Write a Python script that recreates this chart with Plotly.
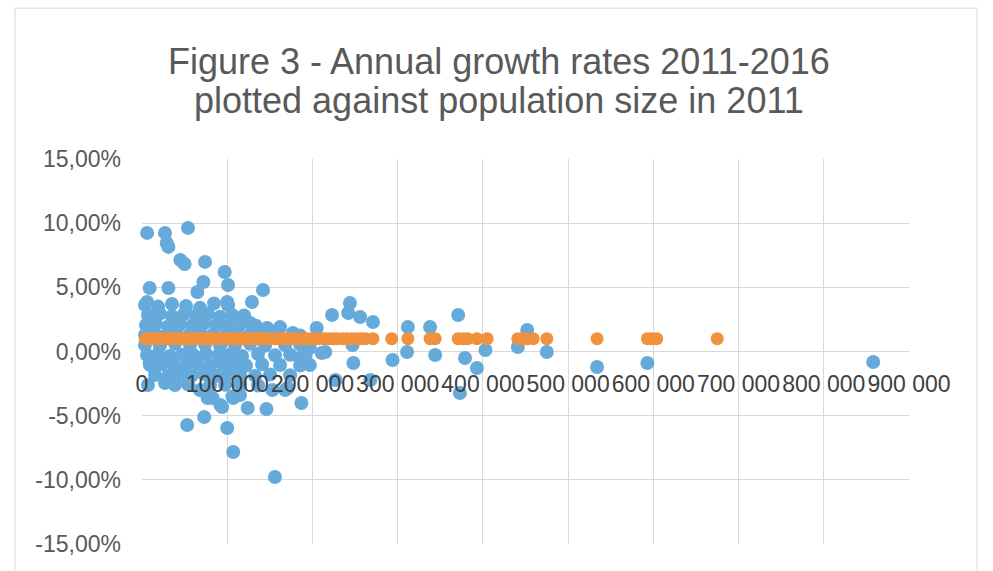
import plotly.graph_objects as go

# Population size in 2011 (persons) and annual growth rate 2011-2016 (%) per area
blue_population = [
    6000, 27000, 29000, 31000, 54000, 45000, 50000, 74000, 97000, 72000,
    101000, 9000, 31000, 6000, 65000, 100000, 142000, 129000, 127000, 147000,
    177000, 205000, 223000, 244000, 242000, 256000, 271000, 312000, 338000, 371000,
    452000, 197000, 215000, 247000, 248000, 294000, 311000, 344000, 379000, 393000,
    403000, 441000, 475000, 373000, 534000, 593000, 858000,
    53000, 73000, 100000, 107000, 156000, 124000, 146000, 187000, 94000, 83000,
    107000, 115000, 153000, 171000, 68000, 7000, 27000, 77000, 92000, 9000,
    227000, 268000, 211000, 197000, 185000, 168000, 106000,
    # dense cluster of smaller areas
    3500, 18800, 35200, 51700, 68100, 84500, 101000,
    7000, 21100, 35200, 49300, 63400, 77500, 91600, 105700, 119700,
    4700, 16400, 30500, 44600, 58700, 72800, 86900, 101000, 115100, 133800, 162000,
    3500, 15300, 27000, 41100, 55200, 69300, 83400, 97400, 111500, 125600, 140900, 156100, 185500,
    3500, 21100, 38700, 56400, 74000, 91600, 109200, 126800, 144400, 167900, 185500,
    5900, 18800, 32900, 47000, 61000, 75100, 89200, 103300, 117400, 136200, 156100, 173800, 191400,
    9400, 23500, 37600, 51700, 65700, 79800, 93900, 108000, 122100, 140900, 162000, 185500,
    15300, 30500, 44600, 58700, 72800, 86900, 101000, 115100, 132700, 150300, 173800,
    38700, 54000, 79800, 97400, 115100, 136200,
]
blue_growth = [
    9.24, 9.24, 8.46, 8.15, 9.63, 7.13, 6.82, 6.98, 6.20, 5.42,
    5.18, 4.95, 4.95, 3.86, 4.64, 3.86, 4.79, 3.86, 2.22, 1.83,
    1.44, 1.83, 2.84, 3.78, 3.00, 2.69, 2.30, 1.91, 1.91, 2.84,
    1.68, 0.27, -0.04, 0.51, -0.90, -0.66, -0.04, -0.27, -0.51, -1.29,
    0.12, 0.35, -0.04, -3.23, -1.21, -0.90, -0.82,
    -5.73, -5.11, -5.96, -7.83, -9.78, -4.40, -4.48, -4.01, -4.33, -3.62,
    -3.62, -3.39, -3.00, -2.84, -3.00, -2.61, -2.46, -3.62, -4.17, -0.90,
    -2.22, -2.22, -0.12, -1.05, -0.50, -3.00, -3.50,
    3.62, 3.50, 3.70, 3.55, 3.40, 3.75, 3.60,
    2.84, 2.95, 2.75, 2.90, 2.80, 2.95, 2.70, 2.85, 2.80,
    2.07, 2.15, 1.95, 2.10, 2.00, 2.20, 2.05, 1.95, 2.10, 2.00, 1.90,
    1.29, 1.35, 1.20, 1.30, 1.25, 1.40, 1.30, 1.20, 1.35, 1.25, 1.30, 1.20, 1.25,
    0.51, 0.45, 0.60, 0.50, 0.55, 0.45, 0.50, 0.60, 0.45, 0.50, 0.55,
    -0.27, -0.20, -0.35, -0.25, -0.30, -0.20, -0.30, -0.25, -0.35, -0.20, -0.30, -0.25, -0.35,
    -1.05, -1.00, -1.10, -1.05, -0.95, -1.10, -1.00, -1.05, -1.10, -1.00, -1.05, -1.10,
    -1.83, -1.90, -1.80, -1.85, -1.75, -1.90, -1.80, -1.85, -1.90, -1.80, -1.85,
    -2.61, -2.55, -2.65, -2.60, -2.55, -2.65,
]

# Average growth rate plotted at the same population sizes
orange_population = [
    4000, 7000, 9000, 12000, 15000, 17000, 20000, 23000, 26000, 28000,
    31000, 34000, 37000, 40000, 43000, 46000, 49000, 52000, 55000, 58000,
    61000, 64000, 67000, 70000, 73000, 76000, 80000, 83000, 86000, 90000,
    93000, 97000, 100000, 104000, 108000, 111000, 115000, 119000, 123000, 127000,
    131000, 135000, 139000, 143000, 147000, 151000, 156000, 160000, 165000, 169000,
    174000, 178000, 183000, 188000, 193000, 198000, 203000, 208000, 214000, 219000,
    224000, 229000, 235000, 240000, 246000, 251000, 257000, 262000,
    271000, 293000, 312000, 338000, 344000, 371000, 377000, 382000, 393000, 405000,
    441000, 447000, 452000, 459000, 475000, 534000, 593000, 598000, 604000, 675000,
]
orange_growth = [1.0] * len(orange_population)

x_ticks = [0, 100000, 200000, 300000, 400000, 500000, 600000, 700000, 800000, 900000]
x_labels = ["0", "100 000", "200 000", "300 000", "400 000", "500 000",
            "600 000", "700 000", "800 000", "900 000"]
y_ticks = [-15, -10, -5, 0, 5, 10, 15]
y_labels = ["-15,00%", "-10,00%", "-5,00%", "0,00%", "5,00%", "10,00%", "15,00%"]

title_lines = ["Figure 3 - Annual growth rates 2011-2016",
               "plotted against population size in 2011"]

FONT = "Liberation Sans, Arial, sans-serif"
GRID = "#d9d9d9"

fig = go.Figure()
fig.add_trace(go.Scatter(
    x=blue_population, y=blue_growth, mode="markers",
    marker=dict(size=14, color="#66aadc", line=dict(width=0)),
    cliponaxis=False, showlegend=False,
))
fig.add_trace(go.Scatter(
    x=orange_population, y=orange_growth, mode="markers",
    marker=dict(size=13, color="#f0913d", line=dict(width=0)),
    cliponaxis=False, showlegend=False,
))

fig.update_layout(
    width=993, height=571,
    margin=dict(l=142, r=84, t=159, b=27),
    paper_bgcolor="white", plot_bgcolor="white",
    font=dict(family=FONT),
    xaxis=dict(
        range=[0, 900000], tickvals=x_ticks, ticktext=x_labels,
        showgrid=True, gridcolor=GRID, gridwidth=1, zeroline=False,
        showline=False, ticks="", anchor="free", position=0.5,
        tickfont=dict(size=23, color="#404040", family=FONT),
        ticklabelstandoff=16,
    ),
    yaxis=dict(
        range=[-15, 15], tickvals=y_ticks, ticktext=y_labels,
        showgrid=True, gridcolor=GRID, gridwidth=1, zeroline=False,
        showline=False, ticks="", domain=[0, 1],
        tickfont=dict(size=23, color="#595959", family=FONT),
        ticklabelstandoff=20,
    ),
    shapes=[dict(type="rect", xref="paper", yref="paper",
                 x0=-0.1656, x1=1.0887, y0=-0.08, y1=1.392,
                 line=dict(color=GRID, width=1), fillcolor="rgba(0,0,0,0)",
                 layer="below")],
    annotations=[
        dict(text=title_lines[0], xref="paper", yref="paper", x=0.465, y=1.252,
             showarrow=False, xanchor="center", yanchor="middle",
             font=dict(size=36, color="#595959", family=FONT)),
        dict(text=title_lines[1], xref="paper", yref="paper", x=0.465, y=1.153,
             showarrow=False, xanchor="center", yanchor="middle",
             font=dict(size=36, color="#595959", family=FONT)),
    ],
)

fig.write_html("out.html")
